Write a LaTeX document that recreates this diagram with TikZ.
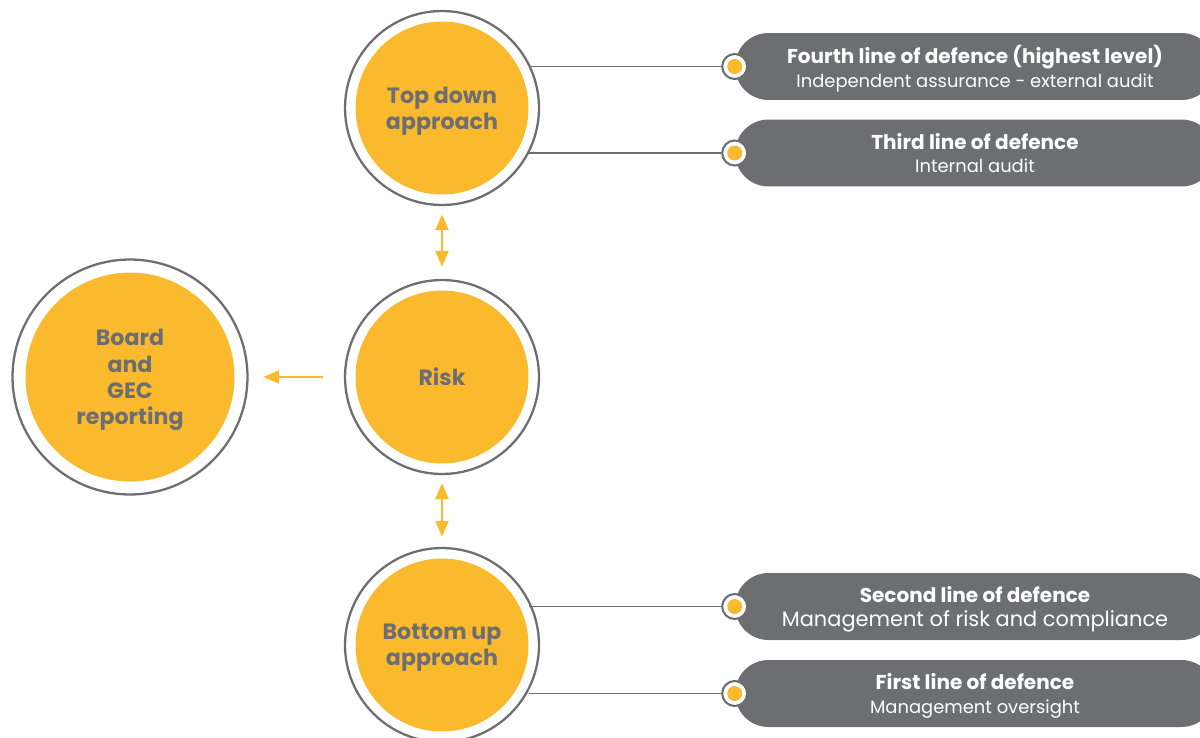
\documentclass[tikz,border=0pt]{standalone}
\usepackage{fontspec}
\setmainfont{Poppins}
\usepackage{xcolor}
\definecolor{SunYellow}{RGB}{251, 186, 46}
\definecolor{SlateGray}{RGB}{109, 110, 113}
\usetikzlibrary{arrows.meta, positioning}

\begin{document}
\begin{tikzpicture}[
        x=0.02cm, y=-0.02cm,
        >={Triangle[length=9pt, width=7.5pt]},
        bubble/.style={circle, fill=SunYellow, minimum size=3.46cm, inner sep=0pt, text depth=0pt, align=center, text=SlateGray, font=\bfseries\fontsize{12.6}{15}\selectfont},
        ring/.style={draw=SlateGray, line width=1.3pt},
        pill/.style={rectangle, rounded corners=0.67cm, fill=SlateGray, minimum width=9.6cm, minimum height=1.34cm, text depth=0pt, align=center, text=white, font=\fontsize{10.2}{13.6}\selectfont},
        bullet/.style={circle, fill=white, draw=SlateGray, line width=1.2pt, minimum size=0.5cm, inner sep=0pt,
            path picture={\fill[SunYellow] (path picture bounding box.center) circle[radius=0.15cm];}},
        link/.style={draw=SlateGray, line width=0.8pt},
        arrow/.style={SunYellow, line width=1pt}
    ]
        \useasboundingbox (0,0) rectangle (1200,737);

        % Circles
        \node[bubble] (top) at (442,108) {Top down\\approach};
        \node[bubble] (risk) at (442,377) {Risk};
        \node[bubble] (bottom) at (442,645) {Bottom up\\approach};
        \node[bubble, minimum size=4.18cm] (board) at (130,377) {Board\\and\\GEC\\reporting};
        \foreach \n/\r in {top/1.94cm, risk/1.94cm, bottom/1.94cm, board/2.35cm}
            \draw[ring] (\n) circle[radius=\r];

        % Lines of defence
        \node[pill] (fourth) at (975,66.5) {\textbf{\fontsize{11.4}{13.6}\selectfont Fourth line of defence (highest level)}\\Independent assurance - external audit};
        \node[pill] (third) at (975,153) {\textbf{\fontsize{11.4}{13.6}\selectfont Third line of defence}\\Internal audit};
        \node[pill] (second) at (975,606.5) {\textbf{\fontsize{11.4}{13.6}\selectfont Second line of defence}\\{\fontsize{11.9}{13.6}\selectfont Management of risk and compliance}};
        \node[pill] (first) at (975,693.5) {\textbf{\fontsize{11.4}{13.6}\selectfont First line of defence}\\Management oversight};

        % Bullets
        \node[bullet] (bullet4) at (fourth.west) {};
        \node[bullet] (bullet3) at (third.west) {};
        \node[bullet] (bullet2) at (second.west) {};
        \node[bullet] (bullet1) at (first.west) {};

        % Links
        \draw[link] (bullet4.west) -- (bullet4 -| top.east);
        \draw[link] (bullet3.west) -- (bullet3 -| top.east);
        \draw[link] (bullet2.west) -- (bullet2 -| bottom.east);
        \draw[link] (bullet1.west) -- (bullet1 -| bottom.east);

        % Arrows
        \draw[arrow, <->, shorten <=0.39cm, shorten >=0.47cm] (top) -- (risk);
        \draw[arrow, <->, shorten <=0.39cm, shorten >=0.43cm] (risk) -- (bottom);
        \draw[arrow, ->, shorten <=0.65cm, shorten >=0.57cm] (risk) -- (board);
    \end{tikzpicture}
\end{document}
